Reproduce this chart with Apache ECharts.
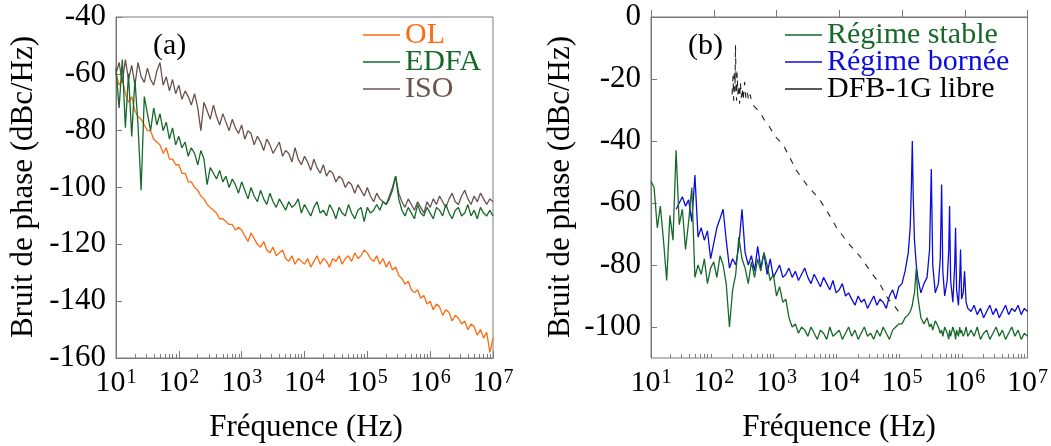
<!DOCTYPE html>
<html><head><meta charset="utf-8">
<script src="https://cdn.jsdelivr.net/npm/echarts@6/dist/echarts.min.js"></script>
<style>html,body{margin:0;padding:0;background:#fff}#c{width:1051px;height:446px}</style>
</head><body><div id="c"></div>
<script>
// ---------- Panel (a) data ----------
const freqA = [
  10,11.2,12.6,14.1,15.8,17.8,20,22.4,25.1,28.2,31.6,35.5,39.8,44.7,50.1,56.2,63.1,70.8,79.4,89.1,
  100,112,126,141,158,178,200,224,251,282,316,355,398,447,501,562,631,708,794,891,
  1000,1120,1260,1410,1580,1780,2000,2240,2510,2820,3160,3550,3980,4470,5010,5620,6310,7080,7940,8910,
  1e4,1.12e4,1.26e4,1.41e4,1.58e4,1.78e4,2e4,2.24e4,2.51e4,2.82e4,3.16e4,3.55e4,3.98e4,4.47e4,5.01e4,5.62e4,6.31e4,7.08e4,7.94e4,8.91e4,
  1e5,1.12e5,1.26e5,1.41e5,1.58e5,1.78e5,2e5,2.24e5,2.51e5,2.82e5,3.16e5,3.55e5,3.98e5,4.47e5,5.01e5,5.62e5,6.31e5,7.08e5,7.94e5,8.91e5,
  1e6,1.12e6,1.26e6,1.41e6,1.58e6,1.78e6,2e6,2.24e6,2.51e6,2.82e6,3.16e6,3.55e6,3.98e6,4.47e6,5.01e6,5.62e6,6.31e6,7.08e6,7.94e6,8.91e6,
  1e7
];
const valOL = [
  -60,-64,-62,-67,-70,-68,-73,-75,-76,-78,-80,-80,-83,-84,-85,-88,-86,-90,-90,-92,
  -92,-95,-95,-98,-98,-100,-101,-103,-104,-106,-107,-108,-109,-111,-111,-112,-113,-113,-115,-114,
  -115,-117,-119,-116,-118,-120,-121,-119,-122,-123,-121,-124,-123,-122,-125,-126,-124,-127,-125,-126,
  -127,-125,-128,-126,-124,-127,-125,-126,-128,-125,-126,-124,-127,-125,-124,-126,-123,-125,-124,-122,
  -123,-125,-126,-124,-127,-125,-128,-126,-129,-128,-131,-132,-134,-133,-136,-137,-136,-139,-138,-141,
  -140,-143,-141,-142,-145,-143,-144,-147,-145,-146,-148,-147,-150,-148,-149,-152,-150,-153,-151,-158,
  -153
];
const valEDFA = [
  -58,-72,-55,-79,-60,-82,-62,-78,-101,-68,-74,-80,-72,-78,-74,-80,-77,-83,-79,-85,
  -82,-86,-84,-89,-86,-88,-92,-87,-90,-99,-93,-95,-97,-94,-98,-96,-100,-97,-99,-102,
  -98,-101,-104,-100,-103,-105,-101,-104,-106,-102,-105,-107,-104,-106,-108,-105,-107,-106,-104,-109,
  -106,-108,-110,-107,-105,-109,-108,-110,-106,-108,-111,-107,-109,-110,-106,-109,-111,-108,-107,-112,
  -107,-109,-108,-106,-108,-105,-106,-104,-101,-96,-104,-108,-110,-107,-109,-111,-106,-109,-110,-107,
  -109,-111,-107,-108,-110,-106,-109,-111,-108,-107,-110,-109,-106,-110,-108,-111,-107,-109,-110,-108,
  -110
];
const valISO = [
  -60,-56,-63,-55,-62,-57,-64,-56,-61,-63,-58,-62,-64,-59,-56,-64,-61,-66,-62,-67,
  -64,-69,-66,-68,-71,-67,-72,-80,-70,-73,-76,-71,-75,-78,-74,-77,-80,-76,-79,-81,
  -78,-83,-80,-81,-85,-82,-84,-87,-83,-85,-88,-86,-84,-89,-87,-88,-91,-86,-90,-92,
  -89,-91,-94,-90,-93,-95,-92,-96,-94,-95,-98,-96,-97,-100,-98,-99,-102,-99,-101,-103,
  -100,-103,-105,-102,-104,-105,-106,-103,-100,-96,-102,-105,-107,-104,-106,-108,-105,-107,-109,-105,
  -107,-104,-106,-103,-105,-107,-104,-102,-105,-106,-103,-101,-104,-106,-103,-105,-102,-104,-106,-104,
  -105
];

// ---------- Panel (b) data ----------
const freqB = [
  10,11.2,12.6,14.1,15.8,17.8,20,22.4,25.1,28.2,31.6,35.5,39.8,44.7,50.1,56.2,63.1,70.8,79.4,89.1,
  100,112,126,141,158,178,200,224,251,282,316,355,398,447,501,562,631,708,794,891,
  1000,1120,1260,1410,1580,1780,2000,2240,2510,2820,3160,3550,3980,4470,5010,5620,6310,7080,7940,8910,
  1e4,1.12e4,1.26e4,1.41e4,1.58e4,1.78e4,2e4,2.24e4,2.51e4,2.82e4,3.16e4,3.55e4,3.98e4,4.47e4,5.01e4,5.62e4,6.31e4,7.08e4,7.94e4,8.91e4,
  1e5,
  1.12e5,1.26e5,1.35e5,1.41e5,1.46e5,1.51e5,1.58e5,1.69e5,1.78e5,2.0e5,2.24e5,2.51e5,2.75e5,2.93e5,3.09e5,3.39e5,3.8e5,4.07e5,4.28e5,4.47e5,
  4.79e5,5.25e5,5.56e5,5.73e5,5.96e5,6.46e5,6.92e5,7.14e5,7.41e5,7.94e5,8.32e5,8.57e5,8.91e5,9.44e5,9.93e5,1.05e6,1.12e6,
  1.26e6,1.41e6,1.58e6,1.78e6,2e6,2.24e6,2.51e6,2.82e6,3.16e6,3.55e6,3.98e6,4.47e6,5.01e6,5.62e6,6.31e6,7.08e6,7.94e6,8.91e6,1e7
];
const valStable = [
  -53,-55,-68,-61,-72,-85,-64,-72,-43,-67,-62,-75,-66,-55,-84,-80,-83,-78,-86,-81,
  -79,-84,-77,-80,-86,-100,-88,-83,-71,-78,-81,-86,-79,-84,-78,-82,-76,-80,-85,-83,
  -90,-87,-92,-91,-97,-100,-99,-102,-100,-101,-103,-100,-102,-104,-101,-102,-104,-100,-103,-102,
  -101,-104,-102,-100,-103,-101,-104,-102,-100,-103,-102,-104,-101,-103,-100,-102,-104,-101,-100,-99,
  -99,
  -97,-96,-95,-94,-93,-91,-89,-81,-90,-97,-99,-97,-100,-99,-101,-98,-100,-102,-101,-103,
  -100,-102,-104,-101,-103,-100,-102,-104,-101,-103,-100,-102,-101,-103,-102,-100,-103,
  -101,-103,-100,-104,-102,-101,-104,-102,-100,-103,-101,-104,-102,-100,-103,-101,-104,-102,-103
];
const valBornee = [
  null,null,null,null,null,null,null,null,-62,-60,-58,-61,-59,-66,-51,-71,-68,-72,-69,-78,
  -73,-68,-65,-62,-72,-81,-78,-80,-74,-62,-76,-80,-77,-82,-74,-81,-76,-83,-78,-84,
  -82,-80,-84,-83,-81,-84,-82,-85,-83,-81,-84,-86,-83,-85,-87,-84,-86,-88,-85,-89,
  -88,-86,-90,-89,-91,-93,-90,-92,-91,-94,-92,-90,-93,-91,-92,-94,-90,-88,-91,-87,
  -86,
  -82,-76,-68,-55,-40,-58,-72,-80,-84,-89,-86,-84,-75,-49,-80,-89,-86,-78,-54,-82,
  -90,-85,-75,-61,-85,-92,-80,-68,-88,-93,-84,-75,-91,-89,-82,-92,-94,
  -95,-93,-96,-94,-97,-95,-93,-96,-94,-97,-95,-93,-96,-94,-95,-93,-96,-94,-95
];
const freqDFB = [196,203,208,213,218,222,226,231,236,242,250,258,266,275,285,295,310,325,340,360,380,410,450,500,560,630,708,800,1000,1260,1600,2000,3000,4900,7000,9100,1.4e4,2.1e4,3.4e4,4.4e4,6e4,7.5e4,9.1e4];
const valDFB  = [-25,-19,-27,-17,-24,-9,-20,-27,-18,-25,-22,-28,-21,-26,-23,-27,-21,-26,-24,-27,-25,-28,-29,-30,-31,-33,-34,-36,-39,-41,-45,-49,-54,-59,-64,-68,-73,-77,-83,-86,-91,-93,-95.5];

// ---------- Labels ----------
const legendA = ['OL', 'EDFA', 'ISO'];
const legendB = ['Régime stable', 'Régime bornée', 'DFB-1G libre'];
const yTicksB = [0, -20, -40, -60, -80, -100];
const minorMult = [2, 3, 4, 5, 6, 7, 8, 9];

const C_OL = '#ff6a10', C_EDFA = '#17692a', C_ISO = '#6c524d', C_BLUE = '#0c0cdc', C_BLK = '#222222';
const FONT = 'Liberation Serif';

function pairs(fs, vs) { const out = []; for (let i = 0; i < fs.length; i++) if (vs[i] !== null) out.push([fs[i], vs[i]]); return out; }
const minorTicks = [];
for (let k = 1; k < 7; k++) minorMult.forEach(m => minorTicks.push(k + Math.log10(m)));

const axisColor = '#7a7a7a';
function logX(grid) {
  return {
    type: 'log', logBase: 10, min: 10, max: 1e7, gridIndex: grid, position: 'bottom',
    axisLine: { lineStyle: { color: axisColor, width: 1 } },
    axisTick: { inside: true, length: 7, lineStyle: { color: axisColor } },
    splitLine: { show: false },
    axisLabel: {
      margin: 10, color: '#000',
      formatter: v => '{b|10}{s|' + Math.round(Math.log10(v)) + '}',
      rich: { b: { fontFamily: FONT, fontSize: 30, color: '#000' }, s: { fontFamily: FONT, fontSize: 20, color: '#000', verticalAlign: 'top', padding: [0, 0, 0, 1] } }
    }
  };
}
function minorX(grid) {
  return {
    type: 'value', min: 1, max: 7, gridIndex: grid, position: 'bottom',
    axisLine: { show: false }, axisLabel: { show: false }, splitLine: { show: false },
    axisTick: { inside: true, length: 4, customValues: minorTicks, lineStyle: { color: axisColor } }
  };
}
const yLabel = { fontFamily: FONT, fontSize: 31, color: '#000', margin: 10 };
const legendCommon = { orient: 'vertical', top: 20, padding: 0, itemGap: -3, itemWidth: 37, itemHeight: 1.5, icon: 'rect',
  textStyle: { fontFamily: FONT, fontSize: 30, lineHeight: 26 } };

const option = {
  animation: false,
  backgroundColor: '#fff',
  grid: [
    { left: 116, top: 17, width: 377, height: 341, show: true, borderColor: axisColor, borderWidth: 1, backgroundColor: 'transparent' },
    { left: 651, top: 17, width: 377, height: 341, show: true, borderColor: axisColor, borderWidth: 1, backgroundColor: 'transparent' }
  ],
  xAxis: [logX(0), logX(1), minorX(0), minorX(1)],
  yAxis: [
    { type: 'value', gridIndex: 0, min: -160, max: -40, interval: 20,
      axisLine: { show: true, lineStyle: { color: axisColor } },
      axisTick: { show: true, inside: true, length: 6, lineStyle: { color: axisColor } },
      splitLine: { show: false }, axisLabel: yLabel },
    { type: 'value', gridIndex: 1, min: -110, max: 0, interval: 10,
      axisLine: { show: true, lineStyle: { color: axisColor } },
      axisTick: { show: true, inside: true, length: 6, customValues: yTicksB, lineStyle: { color: axisColor } },
      splitLine: { show: false }, axisLabel: Object.assign({ customValues: yTicksB }, yLabel) }
  ],
  legend: [
    Object.assign({ left: 363, data: [
        { name: legendA[0], textStyle: { color: C_OL } },
        { name: legendA[1], textStyle: { color: C_EDFA } },
        { name: legendA[2], textStyle: { color: C_ISO } }
      ] }, legendCommon),
    Object.assign({ left: 785, data: [
        { name: legendB[0], textStyle: { color: C_EDFA } },
        { name: legendB[1], textStyle: { color: C_BLUE } },
        { name: legendB[2], textStyle: { color: '#000' } }
      ] }, legendCommon)
  ],
  series: [
    { name: legendA[0], type: 'line', xAxisIndex: 0, yAxisIndex: 0, data: pairs(freqA, valOL), showSymbol: false, symbol: 'none', lineStyle: { color: C_OL, width: 1.3 }, itemStyle: { color: C_OL } },
    { name: legendA[2], type: 'line', xAxisIndex: 0, yAxisIndex: 0, data: pairs(freqA, valISO), showSymbol: false, symbol: 'none', lineStyle: { color: C_ISO, width: 1.3 }, itemStyle: { color: C_ISO } },
    { name: legendA[1], type: 'line', xAxisIndex: 0, yAxisIndex: 0, data: pairs(freqA, valEDFA), showSymbol: false, symbol: 'none', lineStyle: { color: C_EDFA, width: 1.3 }, itemStyle: { color: C_EDFA } },
    { name: legendB[1], type: 'line', xAxisIndex: 1, yAxisIndex: 1, data: pairs(freqB, valBornee), showSymbol: false, symbol: 'none', lineStyle: { color: C_BLUE, width: 1.3 }, itemStyle: { color: C_BLUE } },
    { name: legendB[0], type: 'line', xAxisIndex: 1, yAxisIndex: 1, data: pairs(freqB, valStable), showSymbol: false, symbol: 'none', lineStyle: { color: C_EDFA, width: 1.3 }, itemStyle: { color: C_EDFA } },
    { name: legendB[2], type: 'line', xAxisIndex: 1, yAxisIndex: 1, data: pairs(freqDFB, valDFB), showSymbol: false, symbol: 'none', lineStyle: { color: C_BLK, width: 1.1, type: [6, 7] }, itemStyle: { color: C_BLK } }
  ],
  graphic: [
    { type: 'text', left: 153, top: 31, style: { text: '(a)', font: '30px "Liberation Serif"', fill: '#000' } },
    { type: 'text', left: 688, top: 31, style: { text: '(b)', font: '30px "Liberation Serif"', fill: '#000' } },
    { type: 'text', x: 24, y: 187, rotation: Math.PI / 2, style: { text: 'Bruit de phase (dBc/Hz)', font: '31px "Liberation Serif"', fill: '#000', textAlign: 'center', textVerticalAlign: 'middle' } },
    { type: 'text', x: 561, y: 187, rotation: Math.PI / 2, style: { text: 'Bruit de phase (dBc/Hz)', font: '31px "Liberation Serif"', fill: '#000', textAlign: 'center', textVerticalAlign: 'middle' } },
    { type: 'text', x: 306, y: 428, style: { text: 'Fréquence (Hz)', font: '31px "Liberation Serif"', fill: '#000', textAlign: 'center', textVerticalAlign: 'middle' } },
    { type: 'text', x: 839, y: 428, style: { text: 'Fréquence (Hz)', font: '31px "Liberation Serif"', fill: '#000', textAlign: 'center', textVerticalAlign: 'middle' } }
  ]
};
const chart = echarts.init(document.getElementById('c'), null, { renderer: 'canvas' });
chart.setOption(option);
</script></body></html>
